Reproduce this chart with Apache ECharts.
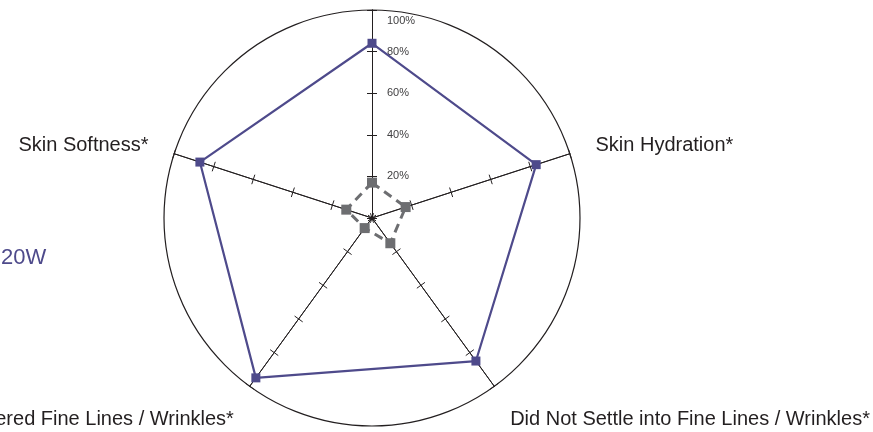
<!DOCTYPE html>
<html>
<head>
	<meta charset="utf-8">
	<title>Radar</title>
	<script src="https://cdn.jsdelivr.net/npm/echarts@6/dist/echarts.min.js"></script>
	<style>
		html, body { margin: 0; padding: 0; background: #fff; }
		#chart { width: 873px; height: 432px; }
	</style>
</head>
<body>
	<div id="chart"></div>
	<script>
		// indicators, counter-clockwise from the top (as echarts lays them out)
		var indicatorNames = ['', 'Skin Softness*', 'Covered Fine Lines / Wrinkles*', 'Did Not Settle into Fine Lines / Wrinkles*', 'Skin Hydration*'];
		var seriesNames = ['20W', 'Control'];
		var purpleValues = [84, 87, 95, 85, 83];
		var greyValues = [17, 13, 6, 15, 17];
		var tickLabels = [20, 40, 60, 80, 100];

		var cx = 372, cy = 218, R = 208;
		var lowered = [2, 3]; // labels under the circle sit a bit lower

		var chart = echarts.init(document.getElementById('chart'));

		var indicators = indicatorNames.map(function (n) {
			return { name: n, min: 0, max: 100 };
		});

		// two radars on top of each other: one draws ticks on each side of the axes
		function radarBase(tickLen, showName) {
			return {
				center: [cx, cy],
				radius: R,
				shape: 'circle',
				startAngle: 90,
				splitNumber: 5,
				indicator: indicators,
				axisName: {
					show: showName,
					color: '#231f20',
					fontSize: 20,
					fontFamily: 'Liberation Sans, Arial, sans-serif',
					formatter: function (name) {
						var i = indicatorNames.indexOf(name);
						if (lowered.indexOf(i) >= 0) return '{low|' + name + '}';
						return name;
					},
					rich: {
						low: { padding: [22, 0, 0, 0], fontSize: 20, color: '#231f20', fontFamily: 'Liberation Sans, Arial, sans-serif' }
					}
				},
				axisNameGap: 27,
				axisLine: { lineStyle: { color: '#231f20', width: 1 } },
				axisTick: { show: true, length: tickLen, lineStyle: { color: '#231f20', width: 1 } },
				axisLabel: { show: false },
				splitLine: { show: false },
				splitArea: { show: false }
			};
		}

		chart.setOption({
			animation: false,
			legend: {
				data: [seriesNames[0]],
				left: -9,
				top: 242,
				icon: 'none',
				itemWidth: 0,
				textStyle: { color: '#4e4a8b', fontSize: 22, fontFamily: 'Liberation Sans, Arial, sans-serif' }
			},
			// polar only draws the outer circle and the % labels on the top axis
			polar: { center: [cx, cy], radius: R },
			angleAxis: {
				type: 'value', min: 0, max: 360, startAngle: 90,
				axisLine: { show: true, lineStyle: { color: '#231f20', width: 1.2 } },
				axisTick: { show: false }, axisLabel: { show: false }, splitLine: { show: false }
			},
			radiusAxis: {
				type: 'value', min: 0, max: 100, interval: 20,
				axisLine: { show: false }, axisTick: { show: false }, splitLine: { show: false },
				axisLabel: {
					margin: -15,
					align: 'left',
					color: '#414042',
					fontSize: 11,
					fontFamily: 'Liberation Sans, Arial, sans-serif',
					formatter: function (v) {
						if (tickLabels.indexOf(v) < 0) return '';
						if (v === 100) return '{top|' + v + '%}';
						return v + '%';
					},
					rich: { top: { padding: [22, 0, 0, 0], fontSize: 11, color: '#414042' } }
				}
			},
			radar: [radarBase(5, true), radarBase(-5, false)],
			series: [{
				type: 'radar',
				radarIndex: 0,
				data: [{
					name: seriesNames[0],
					value: purpleValues,
					symbol: 'rect',
					symbolSize: 9,
					itemStyle: { color: '#4e4a8b' },
					lineStyle: { color: '#4e4a8b', width: 2.2 }
				}, {
					name: seriesNames[1],
					value: greyValues,
					symbol: 'rect',
					symbolSize: 10,
					itemStyle: { color: '#6d6e71' },
					lineStyle: { color: '#6d6e71', width: 3, type: [9, 6] }
				}]
			}]
		});
	</script>
</body>
</html>
